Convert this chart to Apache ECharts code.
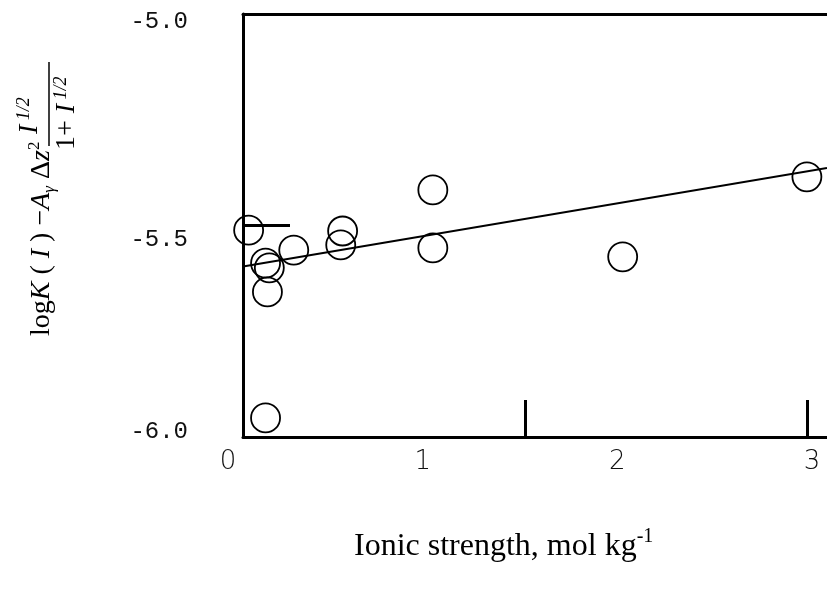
<!DOCTYPE html>
<html>
<head>
<meta charset="UTF-8" />
<script type="text/javascript" src="https://cdn.jsdelivr.net/npm/echarts@6/dist/echarts.min.js"></script>
<style>
	html, body { margin: 0; padding: 0; background: #fff; }
	#chartmain { width: 827px; height: 591px; }
</style>
</head>
<body>
	<div id="chartmain"></div>

	<script type="text/javascript">
		// data
		var ionicStrength = [0.03, 0.12, 0.14, 0.13, 0.27, 0.53, 0.52, 1.01, 1.01, 2.02, 3.0, 0.12];
		var logKValue = [-5.511, -5.589, -5.600, -5.657, -5.558, -5.513, -5.546, -5.416, -5.553, -5.574, -5.385, -5.955];
		// fitted line end points
		var fitX = [0, 3.107];
		var fitY = [-5.597, -5.364];
		// tick labels and tick marks
		var xTicks = [0, 1, 2, 3];
		var yTicks = [-6.0, -5.5, -5.0];
		var xTickMarks = [0, 1.5, 3];

		var points = [];
		for (var i = 0; i < ionicStrength.length; i++) {
			points.push([ionicStrength[i], logKValue[i]]);
		}
		var fitLine = [];
		for (var j = 0; j < fitX.length; j++) {
			fitLine.push([fitX[j], fitY[j]]);
		}

		var serif = '"Liberation Serif", "DejaVu Serif", serif';
		var xMax = 3.107; // the box is cut off by the right edge

		var option = {
			backgroundColor : '#fff',
			animation : false,
			grid : [ {
				// plot box
				left : 243,
				top : 14,
				right : 0,
				height : 423
			}, {
				// tick labels sit a bit off the box in the scan
				left : 228,
				top : 22,
				right : 15,
				height : 410
			} ],
			xAxis : [ {
				type : 'value',
				gridIndex : 0,
				min : 0,
				max : xMax,
				interval : 1.5,
				axisLine : { lineStyle : { color : '#000', width : 3 } },
				axisTick : { inside : true, length : 37, customValues : xTickMarks, lineStyle : { color : '#000', width : 3 } },
				axisLabel : { show : false },
				splitLine : { show : false }
			}, {
				type : 'value',
				gridIndex : 1,
				min : xTicks[0],
				max : xTicks[xTicks.length - 1],
				interval : 1,
				axisLine : { show : false },
				axisTick : { show : false },
				splitLine : { show : false },
				axisLabel : {
					margin : 17,
					color : '#111',
					fontSize : 26,
					fontFamily : '"DejaVu Sans", sans-serif',
					fontWeight : 'lighter'
				}
			}, {
				// top edge of the box
				type : 'value',
				gridIndex : 0,
				position : 'top',
				min : 0,
				max : xMax,
				axisLine : { lineStyle : { color : '#000', width : 3 } },
				axisTick : { show : false },
				axisLabel : { show : false },
				splitLine : { show : false }
			} ],
			yAxis : [ {
				type : 'value',
				gridIndex : 0,
				min : -6,
				max : -5,
				interval : 0.5,
				axisLine : { lineStyle : { color : '#000', width : 3 } },
				axisTick : { inside : true, length : 47, lineStyle : { color : '#000', width : 3 } },
				axisLabel : { show : false },
				splitLine : { show : false }
			}, {
				type : 'value',
				gridIndex : 1,
				min : yTicks[0],
				max : yTicks[yTicks.length - 1],
				interval : 0.5,
				axisLine : { show : false },
				axisTick : { show : false },
				splitLine : { show : false },
				axisLabel : {
					margin : 40,
					formatter : function(v) {
						// the middle label is set lower in the scan
						return v === -5.5 ? '{low|' + v.toFixed(1) + '}' : '{t|' + v.toFixed(1) + '}';
					},
					rich : {
						t : { color : '#111', fontSize : 24, fontFamily : '"Liberation Mono", "DejaVu Sans Mono", monospace' },
						low : { color : '#111', fontSize : 24, fontFamily : '"Liberation Mono", "DejaVu Sans Mono", monospace', padding : [26, 0, 0, 0] }
					}
				}
			} ],
			graphic : [ {
				type : 'text',
				left : 354,
				top : 527,
				style : {
					text : '{a|Ionic strength, mol kg}{s|-1}',
					rich : {
						a : { fontFamily : serif, fontSize : 32, color : '#000', lineHeight : 40 },
						s : { fontFamily : serif, fontSize : 20, color : '#000', verticalAlign : 'top', lineHeight : 24 }
					}
				}
			}, {
				// y title, turned to read upwards
				type : 'group',
				x : 58,
				y : 336,
				rotation : Math.PI / 2,
				children : [ {
					type : 'text',
					x : 0,
					y : 0,
					style : {
						text : '{n|log}{i|K }{n|( }{i|I }{n|) −}{i|A}{sb|γ}{n| Δ}{i|z}{sp|2}',
						verticalAlign : 'bottom',
						rich : {
							n : { fontFamily : serif, fontSize : 28, color : '#000', lineHeight : 32 },
							i : { fontFamily : serif, fontSize : 28, fontStyle : 'italic', color : '#000', lineHeight : 32 },
							sb : { fontFamily : serif, fontSize : 17, fontStyle : 'italic', color : '#000', verticalAlign : 'bottom', lineHeight : 20 },
							sp : { fontFamily : serif, fontSize : 17, color : '#000', verticalAlign : 'top', lineHeight : 22 }
						}
					}
				}, {
					type : 'text',
					x : 202,
					y : -13,
					style : {
						text : '{i|I}{sp| 1/2}',
						verticalAlign : 'bottom',
						rich : {
							i : { fontFamily : serif, fontSize : 28, fontStyle : 'italic', color : '#000', lineHeight : 30 },
							sp : { fontFamily : serif, fontSize : 18, fontStyle : 'italic', color : '#000', verticalAlign : 'top', lineHeight : 20 }
						}
					}
				}, {
					type : 'line',
					shape : { x1 : 190, y1 : -9, x2 : 274, y2 : -9 },
					style : { stroke : '#000', lineWidth : 1.5 }
				}, {
					type : 'text',
					x : 186,
					y : -6,
					style : {
						text : '{n|1+ }{i|I}{sp| 1/2}',
						verticalAlign : 'top',
						rich : {
							n : { fontFamily : serif, fontSize : 28, color : '#000', lineHeight : 30 },
							i : { fontFamily : serif, fontSize : 28, fontStyle : 'italic', color : '#000', lineHeight : 30 },
							sp : { fontFamily : serif, fontSize : 18, fontStyle : 'italic', color : '#000', verticalAlign : 'top', lineHeight : 20 }
						}
					}
				} ]
			} ],
			series : [ {
				name : 'fit',
				type : 'line',
				xAxisIndex : 0,
				yAxisIndex : 0,
				data : fitLine,
				symbol : 'none',
				lineStyle : { color : '#000', width : 2 },
				z : 3
			}, {
				name : 'points',
				type : 'scatter',
				xAxisIndex : 0,
				yAxisIndex : 0,
				data : points,
				symbol : 'circle',
				symbolSize : 29,
				itemStyle : { color : 'rgba(0,0,0,0)', borderColor : '#000', borderWidth : 1.8, opacity : 1 },
				z : 4
			} ]
		};

		var myChart = echarts.init(document.getElementById('chartmain'));
		myChart.setOption(option);
	</script>
</body>
</html>
